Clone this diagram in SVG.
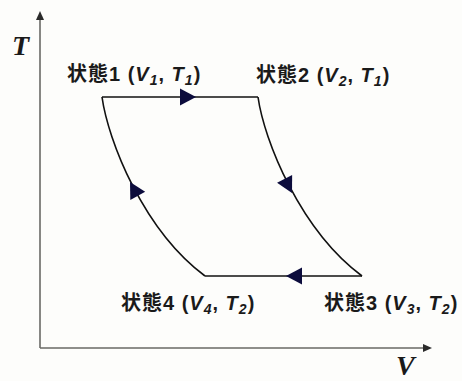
<svg xmlns="http://www.w3.org/2000/svg" xmlns:xlink="http://www.w3.org/1999/xlink" width="462" height="381" viewBox="0 0 462 381">
<style>
.bg{fill:#fdfdfb}
.axis{stroke:#6a6a66;stroke-width:1.6;fill:none}
.ahead{fill:#2a2a2a}
.edge{stroke:#111;stroke-width:1.6;fill:none}
.tri{fill:#0c0c3c}
.lbl{font-family:"Liberation Sans","Noto Sans CJK JP",sans-serif;font-weight:bold;font-size:20px;letter-spacing:1px;fill:#1a1a1a}
.it{font-style:italic}
.sub{font-style:italic;font-size:14px}
.axl{font-family:"Liberation Serif",serif;font-style:italic;font-weight:bold;font-size:28px;fill:#1a1a1a}
</style>
<defs>
<path id="tri" d="M0,0 L-16,-8.5 L-16,8.5 Z"/>
</defs>
<rect class="bg" x="0" y="0" width="462" height="381"/>
<g id="axes">
<path class="axis" d="M40,348 V18 M40,348 H424"/>
<path class="ahead" d="M40,11 L36,20 L44,20 Z"/>
<path class="ahead" d="M432,348 L423,344 L423,352 Z"/>
<text class="axl" x="12" y="55">T</text>
<text class="axl" x="396" y="375" font-size="25">V</text>
</g>
<g id="connectors">
<path class="edge" d="M102,97 H258"/>
<path class="edge" d="M258,97 C264,140 300,230 362,276"/>
<path class="edge" d="M362,276 H205"/>
<path class="edge" d="M205,276 C143,230 108,140 102,97"/>
<use class="tri" href="#tri" transform="translate(196,97)"/>
<use class="tri" href="#tri" transform="translate(292,193) rotate(62.5)"/>
<use class="tri" href="#tri" transform="translate(286,276) rotate(180)"/>
<use class="tri" href="#tri" transform="translate(130,182) rotate(-119)"/>
</g>
<g id="state1">
<text class="lbl" x="67" y="81">状態1 (<tspan class="it">V</tspan><tspan class="sub" dy="4">1</tspan><tspan dy="-4">, </tspan><tspan class="it">T</tspan><tspan class="sub" dy="4">1</tspan><tspan dy="-4">)</tspan></text>
</g>
<g id="state2">
<text class="lbl" x="256" y="82">状態2 (<tspan class="it">V</tspan><tspan class="sub" dy="4">2</tspan><tspan dy="-4">, </tspan><tspan class="it">T</tspan><tspan class="sub" dy="4">1</tspan><tspan dy="-4">)</tspan></text>
</g>
<g id="state3">
<text class="lbl" x="324" y="310">状態3 (<tspan class="it">V</tspan><tspan class="sub" dy="4">3</tspan><tspan dy="-4">, </tspan><tspan class="it">T</tspan><tspan class="sub" dy="4">2</tspan><tspan dy="-4">)</tspan></text>
</g>
<g id="state4">
<text class="lbl" x="121" y="310">状態4 (<tspan class="it">V</tspan><tspan class="sub" dy="4">4</tspan><tspan dy="-4">, </tspan><tspan class="it">T</tspan><tspan class="sub" dy="4">2</tspan><tspan dy="-4">)</tspan></text>
</g>
</svg>
